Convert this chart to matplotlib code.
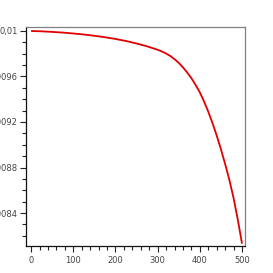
import numpy as np
import matplotlib
matplotlib.use('Agg')
import matplotlib.pyplot as plt
from matplotlib.ticker import MultipleLocator, FuncFormatter

# values
x_vals = [0, 25, 50, 75, 100, 125, 150, 175, 200, 225, 250, 275, 300,
          310, 320, 330, 340, 350, 360, 370, 380, 390, 400, 410, 420, 430,
          440, 450, 460, 470, 480, 490, 500]
y_vals = [0.01, 0.009997, 0.009992, 0.009986, 0.009978, 0.009969, 0.009958,
          0.009945, 0.00993, 0.009912, 0.00989, 0.009865, 0.009835,
          0.00982, 0.009802, 0.00978, 0.009752, 0.00972, 0.00968, 0.009635,
          0.009585, 0.009525, 0.00946, 0.00938, 0.00929, 0.00919,
          0.00908, 0.00896, 0.00883, 0.00869, 0.00853, 0.00834, 0.00813]

x_ticks = [0, 100, 200, 300, 400, 500]
y_ticks = [0.0084, 0.0088, 0.0092, 0.0096, 0.01]


def comma_fmt(v, pos):
    s = f"{v:.4f}".rstrip('0').rstrip('.')
    return s.replace('.', ',')


fig = plt.figure(figsize=(2.73, 2.73), dpi=100)
ax = fig.add_axes([26 / 273, 1 - 246 / 273, 219 / 273, 219 / 273])

ax.plot(x_vals, y_vals, color='#e00000', lw=1.3, solid_capstyle='butt')

ax.set_xlim(-12, 507)
ax.set_ylim(0.00811, 0.010035)

ax.set_xticks(x_ticks)
ax.set_yticks(y_ticks)
ax.xaxis.set_minor_locator(MultipleLocator(20))
ax.yaxis.set_minor_locator(MultipleLocator(0.0001))
ax.yaxis.set_major_formatter(FuncFormatter(comma_fmt))

ax.tick_params(which='both', direction='out', labelsize=6, colors='#222222',
               labelcolor='#444444', width=0.8, pad=2)
ax.tick_params(which='major', length=4)
ax.tick_params(which='minor', length=3)
ax.tick_params(axis='x', pad=3)

for side in ['left', 'bottom']:
    ax.spines[side].set_color('#111111')
    ax.spines[side].set_linewidth(0.9)
for side in ['top', 'right']:
    ax.spines[side].set_color('#808080')
    ax.spines[side].set_linewidth(0.9)

fig.savefig('out.png', dpi=100)
